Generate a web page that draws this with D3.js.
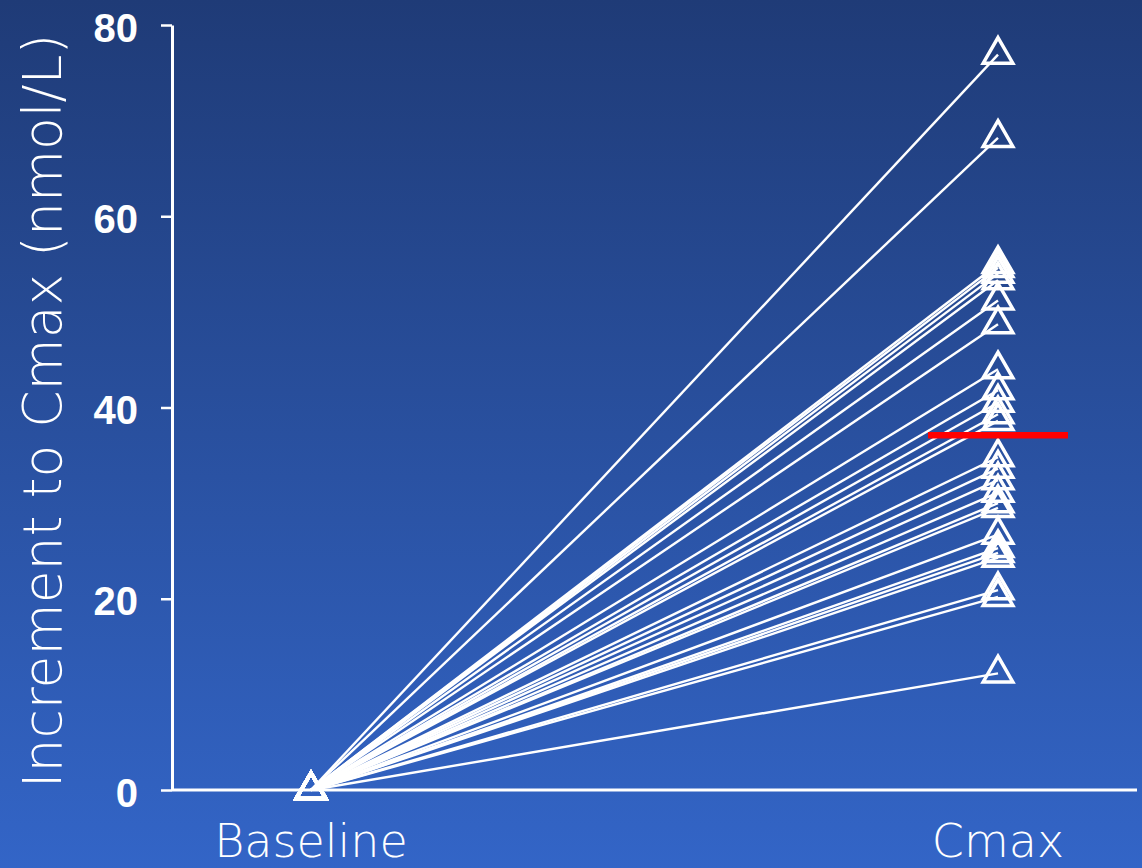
<!DOCTYPE html>
<html>
<head>
<meta charset="utf-8">
<script src="https://cdn.jsdelivr.net/npm/d3@7"></script>
<style>
  html, body { margin: 0; padding: 0; background: #2a52a6; }
  svg { display: block; }
</style>
</head>
<body>
<div id="chartContainer"></div>
<script>
// x categories and tick labels
let categories = ["Baseline", "Cmax"];
let yTicks = [0, 20, 40, 60, 80];

// increment per subject (nmol/L), baseline is always 0
let baselineValues = [0, 0, 0, 0, 0, 0, 0, 0, 0, 0, 0, 0, 0, 0, 0, 0, 0, 0, 0, 0, 0, 0, 0, 0, 0, 0];
let cmaxValues = [76.9, 68.2, 55.0, 54.6, 54.0, 53.3, 51.2, 48.7, 44.0, 41.8, 40.5, 39.3, 38.6,
                  34.8, 33.6, 32.4, 31.1, 30.0, 29.5, 26.7, 25.3, 24.8, 24.3, 20.9, 20.2, 12.2];
let meanCmax = 37.1;

function drawChart(){
  let W = 1142, H = 868;
  let margin = {top: 25, right: 5, bottom: 78, left: 172},
    width = W - margin.left - margin.right,
    height = H - margin.top - margin.bottom;

  let svg = d3.select("#chartContainer")
    .append("svg")
    .attr("width", W)
    .attr("height", H);

  // background gradient, dark navy on top to lighter blue at bottom
  let grad = svg.append("defs").append("linearGradient")
    .attr("id", "bg")
    .attr("x1", 0).attr("y1", 0).attr("x2", 0).attr("y2", 1);
  grad.append("stop").attr("offset", "0%").attr("stop-color", "#1f3b77");
  grad.append("stop").attr("offset", "100%").attr("stop-color", "#3365c7");
  svg.append("rect").attr("width", W).attr("height", H).attr("fill", "url(#bg)");

  let g = svg.append("g")
    .attr("transform", "translate(" + margin.left + "," + margin.top + ")");

  // scales
  let x = d3.scalePoint().domain(categories).range([139, 826]);
  let y = d3.scaleLinear().domain([0, 80]).range([height, 0]);

  // y axis
  let yAxis = g.append("g")
    .call(d3.axisLeft(y).tickValues(yTicks).tickSize(11).tickPadding(23).tickSizeOuter(0));
  yAxis.select(".domain").attr("stroke", "#fff").attr("stroke-width", 3);
  yAxis.selectAll(".tick line").attr("stroke", "#fff").attr("stroke-width", 2.5);
  yAxis.selectAll(".tick text")
    .attr("fill", "#fff")
    .attr("dy", "0.4em")
    .style("font-family", "'Liberation Sans', Arial, sans-serif")
    .style("font-weight", "bold")
    .style("font-size", "40px");

  // x axis line (no ticks)
  g.append("line")
    .attr("x1", 0).attr("x2", width)
    .attr("y1", y(0)).attr("y2", y(0))
    .attr("stroke", "#fff").attr("stroke-width", 3);

  // x category labels
  g.selectAll(".xlabel")
    .data(categories)
    .enter().append("text")
    .attr("class", "xlabel")
    .attr("x", d => x(d))
    .attr("y", height + 67)
    .attr("text-anchor", "middle")
    .attr("fill", "#fff")
    .style("font-family", "'DejaVu Sans', Verdana, sans-serif")
    .style("font-weight", 200)
    .style("font-size", "46px")
    .text(d => d);

  // y axis title
  svg.append("text")
    .attr("transform", "translate(61," + 411 + ") rotate(-90)")
    .attr("text-anchor", "middle")
    .attr("fill", "#fff")
    .style("font-family", "'DejaVu Sans', Verdana, sans-serif")
    .style("font-weight", 200)
    .style("font-size", "53.5px")
    .text("Increment to Cmax (nmol/L)");

  // one line per subject
  let subjects = cmaxValues.map((v, i) => [[categories[0], baselineValues[i]], [categories[1], v]]);
  let line = d3.line()
    .x(d => x(d[0]))
    .y(d => y(d[1]));

  g.selectAll(".subject")
    .data(subjects)
    .enter().append("path")
    .attr("class", "subject")
    .attr("fill", "none")
    .attr("stroke", "#fff")
    .attr("stroke-width", 2.4)
    .attr("d", line);

  // hollow triangle markers
  let tri = d3.symbol().type(d3.symbolTriangle).size(380);
  let points = [];
  subjects.forEach(s => s.forEach(p => points.push(p)));

  g.selectAll(".marker")
    .data(points)
    .enter().append("path")
    .attr("class", "marker")
    .attr("transform", d => "translate(" + x(d[0]) + "," + y(d[1]) + ")")
    .attr("d", tri)
    .attr("fill", "none")
    .attr("stroke", "#fff")
    .attr("stroke-width", 3.5)
    .attr("stroke-linejoin", "miter");

  // mean bar
  g.append("line")
    .attr("x1", x("Cmax") - 70)
    .attr("x2", x("Cmax") + 70)
    .attr("y1", y(meanCmax))
    .attr("y2", y(meanCmax))
    .attr("stroke", "#ff0000")
    .attr("stroke-width", 6.5);
}

drawChart();
</script>
</body>
</html>
